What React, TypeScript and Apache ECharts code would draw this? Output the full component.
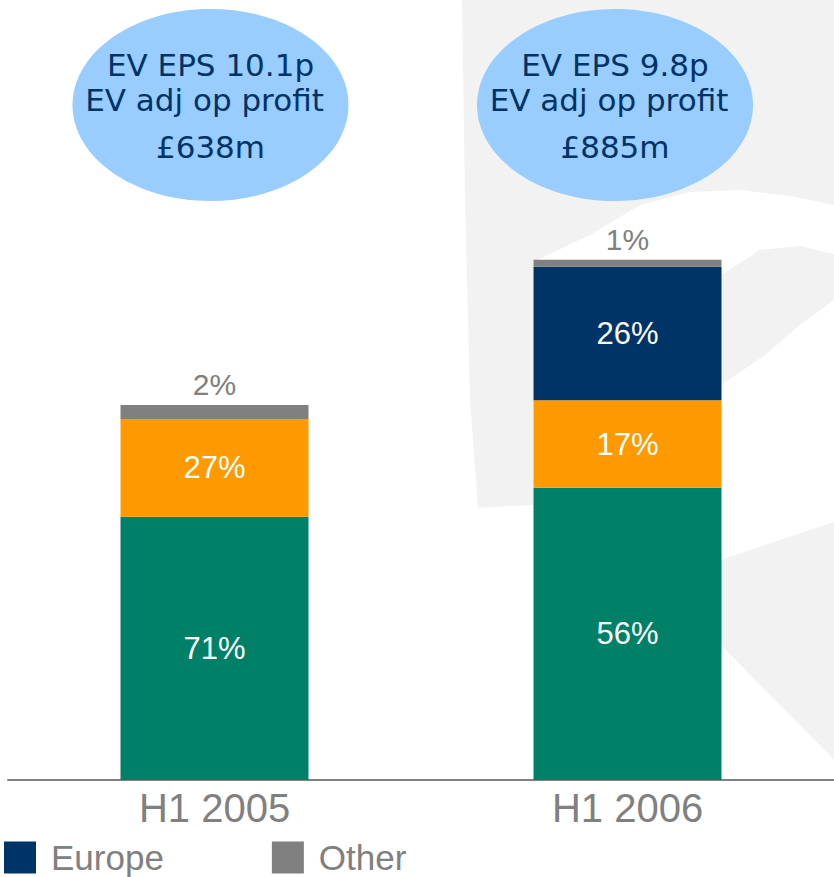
import React, { useEffect, useRef } from "react";
import * as echarts from "echarts";

// ---- data (values in £m) ----
const categories = ["H1 2005", "H1 2006"];
const greenValues = [448, 497];
const orangeValues = [166, 149];
const europeValues: (number | string)[] = ["-", 227];
const otherValues = [24, 12];

const greenShare = ["71%", "56%"];
const orangeShare = ["27%", "17%"];
const europeShare = ["", "26%"];
const otherShare = ["2%", "1%"];

const bubbleLines = [
  ["EV EPS 10.1p", "EV adj op profit", "£638m"],
  ["EV EPS 9.8p", "EV adj op profit", "£885m"],
];

const legendItems = ["Europe", "Other"];

const SANS = "'Liberation Sans', Arial, sans-serif";

export default function App() {
  const ref = useRef<HTMLDivElement>(null);

  useEffect(() => {
    if (!ref.current) return;
    const chart = echarts.init(ref.current, undefined, { renderer: "svg" });

    const insideLabel = (shares: string[]) => ({
      show: true,
      position: "inside",
      color: "#ffffff",
      fontSize: 31,
      fontFamily: SANS,
      formatter: (p: any) => shares[p.dataIndex],
    });

    const wm = "#f2f2f2";
    const watermark = [
      [[462, 0], [834, 0], [834, 205], [790, 196], [740, 190], [690, 192], [640, 205], [590, 235], [533, 262], [533, 505], [478, 508], [470, 400], [465, 200]],
      [[721, 275], [760, 250], [800, 246], [834, 254], [834, 300], [800, 325], [765, 355], [721, 385]],
      [[721, 560], [780, 540], [834, 522], [834, 760], [800, 725], [760, 685], [721, 645]],
    ].map((pts) => ({
      type: "polygon",
      z: 0,
      silent: true,
      shape: { points: pts },
      style: { fill: wm },
    }));

    const bubbleCenters = [
      [210.5, 105],
      [615, 105],
    ];
    const lineY = [65, 100, 147];
    const lineDx = [0, -6, 0];

    const bubbles: any[] = [];
    bubbleCenters.forEach((c, i) => {
      bubbles.push({
        type: "ellipse",
        z: 50,
        shape: { cx: c[0], cy: c[1], rx: 138, ry: 96 },
        style: { fill: "#99ccff" },
      });
      bubbleLines[i].forEach((t, j) => {
        bubbles.push({
          type: "text",
          z: 60,
          x: c[0] + lineDx[j],
          y: lineY[j],
          style: {
            text: t,
            fill: "#003366",
            fontSize: 31,
            fontFamily: "'DejaVu Sans', Verdana, sans-serif",
            align: "center",
            verticalAlign: "middle",
          },
        });
      });
    });

    chart.setOption({
      animation: false,
      backgroundColor: "#ffffff",
      grid: { left: 8, right: 0, top: 192.2, bottom: 97, containLabel: false },
      legend: {
        data: legendItems,
        left: 4,
        top: 840,
        padding: 0,
        icon: "rect",
        itemWidth: 32,
        itemHeight: 32,
        itemGap: 108,
        selectedMode: false,
        textStyle: {
          fontSize: 35,
          color: "#808080",
          fontFamily: SANS,
          padding: [0, 0, 0, 10],
        },
      },
      xAxis: {
        type: "category",
        data: categories,
        axisLine: { show: true, lineStyle: { color: "#808080", width: 2 } },
        axisTick: { show: false },
        axisLabel: { fontSize: 40, color: "#808080", fontFamily: SANS, margin: 8 },
      },
      yAxis: {
        type: "value",
        min: 0,
        max: 1000,
        show: false,
        splitLine: { show: false },
      },
      graphic: { elements: [...watermark, ...bubbles] },
      series: [
        {
          name: "UK",
          type: "bar",
          stack: "total",
          barWidth: 188,
          data: greenValues,
          itemStyle: { color: "#008066" },
          label: insideLabel(greenShare),
        },
        {
          name: "US",
          type: "bar",
          stack: "total",
          data: orangeValues,
          itemStyle: { color: "#ff9900" },
          label: insideLabel(orangeShare),
        },
        {
          name: "Europe",
          type: "bar",
          stack: "total",
          data: europeValues,
          itemStyle: { color: "#003366" },
          label: insideLabel(europeShare),
        },
        {
          name: "Other",
          type: "bar",
          stack: "total",
          data: otherValues,
          itemStyle: { color: "#808080" },
          label: {
            show: true,
            position: "top",
            distance: 5,
            color: "#808080",
            fontSize: 30,
            fontFamily: SANS,
            formatter: (p: any) => otherShare[p.dataIndex],
          },
        },
      ],
    });

    return () => chart.dispose();
  }, []);

  return (
    <div
      ref={ref}
      style={{ position: "fixed", left: 0, top: 0, width: 834, height: 877 }}
    />
  );
}
